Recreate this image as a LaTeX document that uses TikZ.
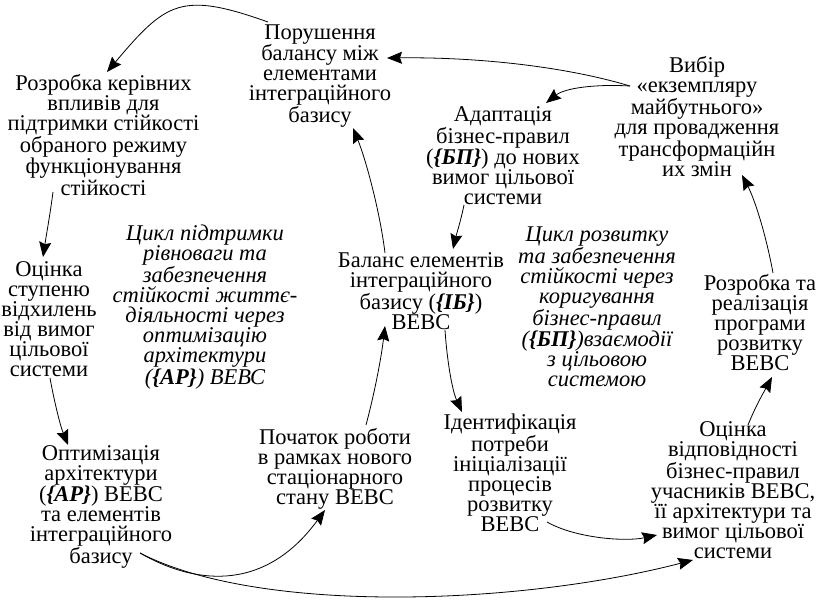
\documentclass[tikz,border=0pt]{standalone}
\usepackage{fontspec}
\setmainfont{Liberation Serif}
\usetikzlibrary{arrows.meta}
\tikzset{
  lbl/.style={align=center, inner sep=1bp, font=\fontsize{22.5bp}{20bp}\selectfont},
  cyc/.style={lbl, font=\fontsize{22.5bp}{20bp}\selectfont\itshape},
  arr/.style={line width=0.8bp, -{Stealth[length=15bp,width=12bp,inset=2bp]}}
}
\newcommand{\bi}[1]{\textbf{\textit{#1}}}
\begin{document}
\begin{tikzpicture}[x=1bp, y=-1bp]
\useasboundingbox (0,0) rectangle (822,605);

% process steps
\node[lbl] (A) at (320,76) {Порушення\\балансу між\\елементами\\інтеграційного\\базису};
\node[lbl] (B) at (103.5,135) {Розробка керівних\\впливів для\\підтримки стійкості\\обраного режиму\\функціонування\\стійкості};
\node[lbl] (C) at (49,319) {Оцінка\\ступеню\\відхилень\\від вимог\\цільової\\системи};
\node[lbl] (E) at (101,507) {Оптимізація\\архітектури\\(\bi{\{АР\}}) ВЕВС\\та елементів\\інтеграційного\\базису};
\node[lbl] (F) at (335,469) {Початок роботи\\в рамках нового\\стаціонарного\\стану ВЕВС};
\node[lbl] (G) at (421,291) {Баланс елементів\\інтеграційного\\базису (\bi{\{ІБ\}})\\ВЕВС};
\node[lbl] (H) at (503,156) {Адаптація\\бізнес-правил\\(\bi{\{БП\}}) до нових\\вимог цільової\\системи};
\node[lbl] (I) at (697,116.5) {Вибір\\«екземпляру\\майбутнього»\\для провадження\\трансформаційн\\их змін};
\node[lbl] (K) at (760,323) {Розробка та\\реалізація\\програми\\розвитку\\ВЕВС};
\node[lbl] (L) at (510,472.5) {Ідентифікація\\потреби\\ініціалізації\\процесів\\розвитку\\ВЕВС};
\node[lbl] (M) at (733,490) {Оцінка\\відповідності\\бізнес-правил\\учасників ВЕВС,\\її архітектури та\\вимог цільової\\системи};

% cycle captions
\node[cyc] (D) at (205,307) {Цикл підтримки\\рівноваги та\\забезпечення\\стійкості життє-\\діяльності через\\оптимізацію\\архітектури\\(\textbf{\{АР\}}) ВЕВС};
\node[cyc] (J) at (597,307) {Цикл розвитку\\та забезпечення\\стійкості через\\коригування\\бізнес-правил\\(\textbf{\{БП\}})взаємодії\\з цільовою\\системою};

% connectors
\draw[arr] ([shift={(-52,-54)}]A.center) .. controls (181,-9) and (166,2) .. ([shift={(3.5,-63)}]B.center);
\draw[arr] ([shift={(-67,-30.5)}]I.center) .. controls (560,65) and (470,57) .. ([shift={(67,-18)}]A.center);
\draw[arr] ([shift={(-67,-30.5)}]I.center) .. controls (595,84) and (565,88) .. ([shift={(43,-53)}]H.center);
\draw[arr] ([shift={(-39,49)}]H.center) .. controls (461,220) and (456,236) .. ([shift={(32,-42)}]G.center);
\draw[arr] ([shift={(24,39)}]G.center) .. controls (447,360) and (452,390) .. ([shift={(-48,-60.5)}]L.center);
\draw[arr] ([shift={(37,49.5)}]L.center) .. controls (575,538) and (625,542) .. ([shift={(-76,45)}]M.center);
\draw[arr] ([shift={(39,46)}]E.center) .. controls (260,615) and (520,605) .. ([shift={(-40,70)}]M.center);
\draw[arr] ([shift={(39,46)}]E.center) .. controls (190,582) and (262,596) .. ([shift={(-10,41)}]F.center);
\draw[arr] ([shift={(31,-44)}]F.center) .. controls (374,395) and (381,360) .. ([shift={(-36,35)}]G.center);
\draw[arr] ([shift={(-36,-38)}]G.center) .. controls (380,212) and (366,160) .. ([shift={(33,52)}]A.center);
\draw[arr] ([shift={(-50.5,57)}]B.center) .. controls (50,215) and (46,237) .. ([shift={(-6,-62)}]C.center);
\draw[arr] ([shift={(1,59)}]C.center) .. controls (54,400) and (60,425) .. ([shift={(-33,-62)}]E.center);
\draw[arr] ([shift={(13,-50)}]K.center) .. controls (766,235) and (755,200) .. ([shift={(45,58.5)}]I.center);
\draw[arr] ([shift={(15,-65)}]M.center) .. controls (756,405) and (765,390) .. ([shift={(12,54)}]K.center);
\end{tikzpicture}
\end{document}
